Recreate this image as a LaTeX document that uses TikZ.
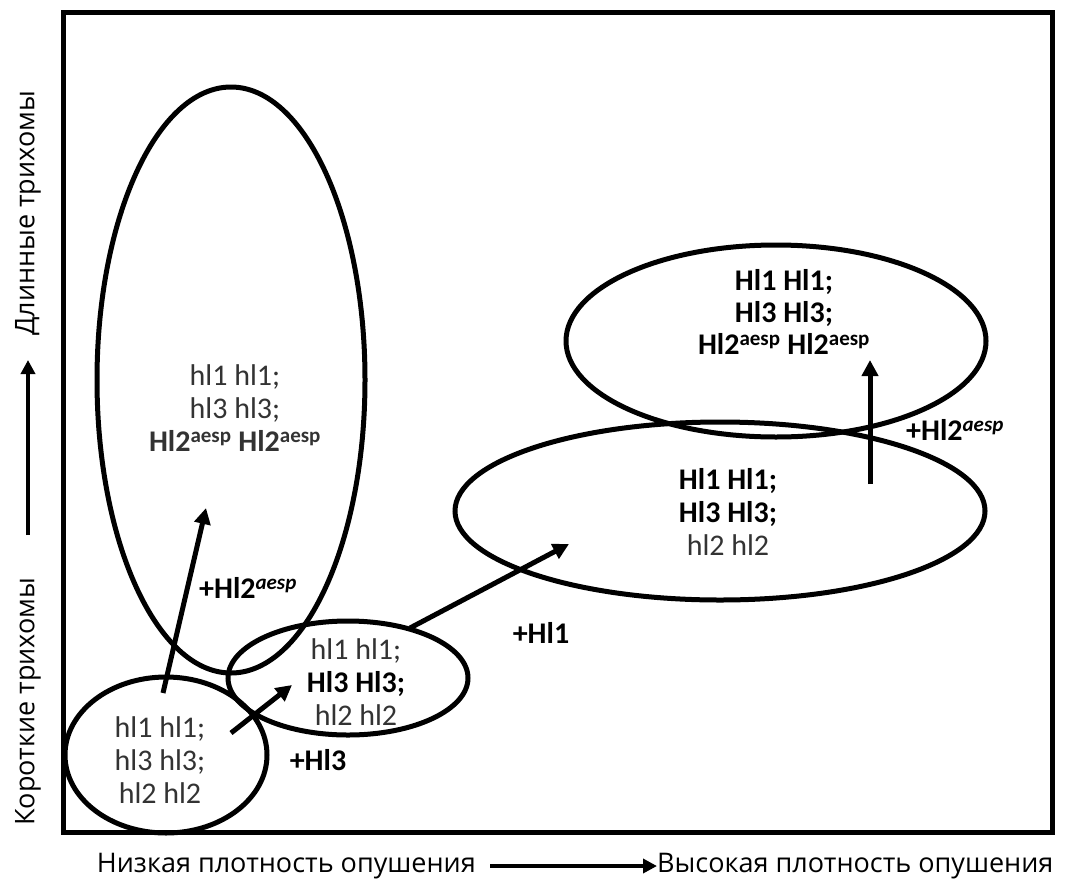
\documentclass[tikz,border=0pt]{standalone}
\usepackage{fontspec}
\setmainfont{Carlito}
\newfontfamily\axisfont{Open Sans}
\usetikzlibrary{arrows.meta}
\definecolor{txtgray}{HTML}{333333}
\newcommand{\spx}[1]{\textsuperscript{#1}}
\newcommand{\spi}[1]{\textsuperscript{\textit{#1}}}
\begin{document}
\begin{tikzpicture}[x=1pt,y=-1pt,
  ell/.style={line width=5pt},
  arr/.style={line width=5pt,-{Triangle[length=16pt,width=16pt]}},
  txt/.style={align=center,text=txtgray,font=\fontsize{30}{33}\selectfont,inner sep=0pt},
  lab/.style={font=\fontsize{30}{33}\selectfont\bfseries,inner sep=0pt},
  axl/.style={font=\axisfont\fontsize{27}{30}\selectfont,inner sep=0pt,text=black}]
\useasboundingbox (0,0) rectangle (1070,886);
\draw[line width=5pt] (63,12) rectangle (1052,832);
% ellipses
\draw[ell] (231,380) ellipse [x radius=134pt, y radius=293pt];
\draw[ell] (166,755) ellipse [x radius=101pt, y radius=78pt];
\draw[ell] (348,678) ellipse [x radius=120pt, y radius=57pt];
\draw[ell] (720,511) ellipse [x radius=265pt, y radius=89pt];
\draw[ell] (776,341) ellipse [x radius=210pt, y radius=96pt];
% texts
\node[txt] (ta) at (235,408) {hl1 hl1;\\hl3 hl3;\\\textbf{Hl2\spx{aesp} Hl2\spx{aesp}}};
\node[txt] (tb) at (160,760) {hl1 hl1;\\hl3 hl3;\\hl2 hl2};
\node[txt] (tc) at (356,682) {hl1 hl1;\\\textbf{\color{black}Hl3 Hl3;}\\hl2 hl2};
\node[txt] (td) at (728,512) {\textbf{\color{black}Hl1 Hl1;}\\\textbf{\color{black}Hl3 Hl3;}\\hl2 hl2};
\node[txt,text=black,font=\fontsize{30}{32}\selectfont\bfseries] (te) at (784,312) {Hl1 Hl1;\\Hl3 Hl3;\\Hl2\spx{aesp} Hl2\spx{aesp}};
% arrows
\coordinate (a1s) at (163,693); \coordinate (a1e) at (206,508);
\coordinate (a2s) at (231,733); \coordinate (a2e) at (292,685);
\coordinate (a3s) at (410,628); \coordinate (a3e) at (569,544);
\coordinate (a4s) at (870,484); \coordinate (a4e) at (870,360);
\draw[arr] (a1s) -- (a1e);
\draw[arr] (a2s) -- (a2e);
\draw[arr] (a3s) -- (a3e);
\draw[arr] (a4s) -- (a4e);
% labels
\node[lab] (l1) at (248,588) {+Hl2\spi{aesp}};
\node[lab] (l2) at (318,760) {+Hl3};
\node[lab] (l3) at (541,633) {+Hl1};
\node[lab] (l4) at (955,430) {+Hl2\spi{aesp}};
% axes
\node[axl,anchor=east] (xl) at (476,866) {Низкая плотность опушения};
\node[axl,anchor=west] (xr) at (657,866) {Высокая плотность опушения};
\coordinate (xa) at (490,866);
\draw[line width=4pt,-{Triangle[length=14pt,width=14pt]}] (xa) -- (xr.west);
\node[axl,rotate=90,anchor=west] (yb) at (28,826) {Короткие трихомы};
\node[axl,rotate=90,anchor=west] (yt) at (28,336) {Длинные трихомы};
\coordinate (ya) at (28,535);
\coordinate (yae) at (28,360);
\draw[line width=4pt,-{Triangle[length=14pt,width=14pt]}] (ya) -- (yae);
\end{tikzpicture}
\end{document}
